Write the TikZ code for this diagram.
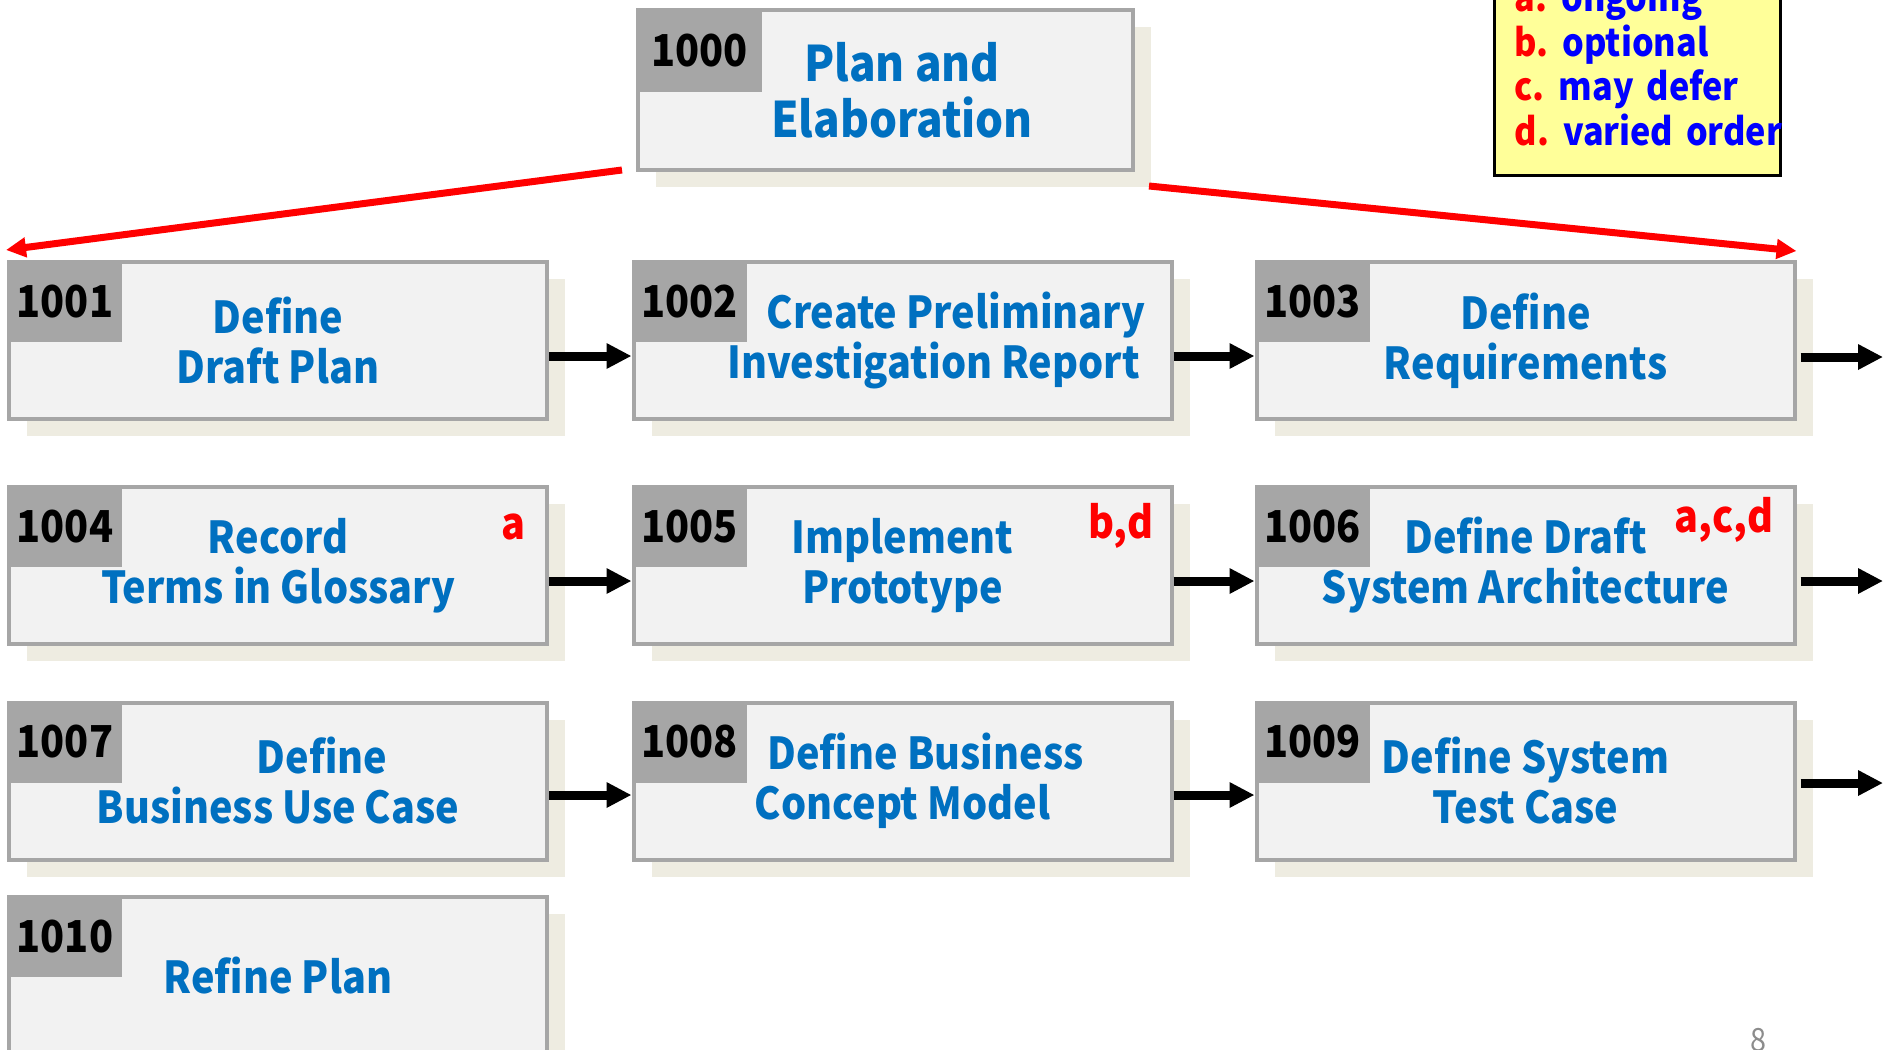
\documentclass[tikz,border=0pt]{standalone}
\usepackage{fontspec}
\setmainfont{Noto Sans CJK KR}[FakeStretch=0.9]
\usetikzlibrary{calc,shadows,arrows.meta}
\definecolor{boxgray}{HTML}{A6A6A6}
\definecolor{boxfill}{HTML}{F2F2F2}
\definecolor{titleblue}{HTML}{0070C0}
\definecolor{shadowtan}{HTML}{EEECE1}
\definecolor{notefill}{HTML}{FFFF99}
\definecolor{pagegray}{HTML}{8C8C8C}
\tikzset{
	task/.style={rectangle, draw=boxgray, line width=2pt, fill=boxfill, minimum width=269pt, minimum height=78.5pt, inner sep=0pt, align=center, text=titleblue, font=\fontsize{22}{25}\selectfont\bfseries, general shadow={fill=shadowtan, shadow xshift=9pt, shadow yshift=-8.5pt}},
	idbox/.style={rectangle, fill=boxgray, minimum width=57.5pt, minimum height=41pt, inner sep=0pt, anchor=north west, font=\fontsize{22}{26}\selectfont\bfseries},
	flag/.style={text=red, inner sep=0pt, anchor=base east, font=\fontsize{22}{25}\selectfont\bfseries},
	flow/.style={line width=4.5pt, -{Triangle[length=12.5pt,width=12pt]}},
	branch/.style={red, line width=3.5pt, -{Triangle[length=10pt,width=9.5pt]}},
	notebox/.style={rectangle, draw=black, line width=1.5pt, fill=notefill, inner xsep=10pt, inner ysep=0pt, text width=123pt, align=left, font=\fontsize{19}{22.3}\selectfont\bfseries},
}

\begin{document}
\begin{tikzpicture}[x=0.5pt, y=-0.5pt]
			%%%%% START %%%%%
			
			\fill[white] (0, 0) rectangle (1883, 1049);
			\useasboundingbox (0, 0) rectangle (1883, 1049);
			\clip (0, 0) rectangle (1883, 1049);
			
			\node[task, minimum width=247.5pt, minimum height=80pt, font=\fontsize{24.5}{28}\selectfont\bfseries] (t1000) at (885.5, 90) {\hspace*{16.5pt}Plan and\\ \hspace*{16.5pt}Elaboration};
			\node[idbox, minimum width=63pt, minimum height=42pt] (n1000) at (t1000.north west) {1000};
			
			\node[task] (t1001) at (278, 340.5) {Define\\ Draft Plan};
			\node[idbox] (n1001) at (t1001.north west) {1001};
			\node[task] (t1002) at (902.5, 340.5) {\hspace*{53.5pt}Create Preliminary\\ \hspace*{31pt}Investigation Report};
			\node[idbox] (n1002) at (t1002.north west) {1002};
			\node[task] (t1003) at (1525.5, 340.5) {Define\\ Requirements};
			\node[idbox] (n1003) at (t1003.north west) {1003};
			
			\node[task] (t1004) at (278, 565.5) {Record\\ Terms in Glossary};
			\node[idbox] (n1004) at (t1004.north west) {1004};
			\node[flag] (f1004) at ($(t1004.north east)+(-23, 54)$) {a};
			\node[task] (t1005) at (902.5, 565.5) {Implement\\ Prototype};
			\node[idbox] (n1005) at (t1005.north west) {1005};
			\node[flag] (f1005) at ($(t1005.north east)+(-20, 53)$) {b,d};
			\node[task] (t1006) at (1525.5, 565.5) {Define Draft\\ System Architecture};
			\node[idbox] (n1006) at (t1006.north west) {1006};
			\node[flag] (f1006) at ($(t1006.north east)+(-23, 47)$) {a,c,d};
			
			\node[task] (t1007) at (278, 781) {\hspace*{44pt}Define\\ Business Use Case};
			\node[idbox] (n1007) at (t1007.north west) {1007};
			\node[task] (t1008) at (902.5, 781) {\hspace*{23pt}Define Business\\ Concept Model};
			\node[idbox] (n1008) at (t1008.north west) {1008};
			\node[task] (t1009) at (1525.5, 781) {Define System\\ Test Case};
			\node[idbox] (n1009) at (t1009.north west) {1009};
			
			\node[task] (t1010) at (278, 975.5) {Refine Plan};
			\node[idbox] (n1010) at (t1010.north west) {1010};
			
			\draw[flow] ($(t1001.east)+(0, 15.5)$) -- ($(t1002.west)+(0, 15.5)$);
			\draw[flow] ($(t1002.east)+(0, 15.5)$) -- ($(t1003.west)+(0, 15.5)$);
			\draw[flow] ($(t1004.east)+(0, 15.5)$) -- ($(t1005.west)+(0, 15.5)$);
			\draw[flow] ($(t1005.east)+(0, 15.5)$) -- ($(t1006.west)+(0, 15.5)$);
			\draw[flow] ($(t1007.east)+(0, 14)$) -- ($(t1008.west)+(0, 14)$);
			\draw[flow] ($(t1008.east)+(0, 14)$) -- ($(t1009.west)+(0, 14)$);
			
			\coordinate (out1) at (1883, 357);
			\coordinate (out2) at (1883, 581);
			\coordinate (out3) at (1883, 783);
			\draw[flow] ($(t1003.east)+(4, 16.5)$) -- (out1);
			\draw[flow] ($(t1006.east)+(4, 15.5)$) -- (out2);
			\draw[flow] ($(t1009.east)+(4, 2)$) -- (out3);
			
			\coordinate (tipL) at ($(t1001.north west)+(-1, -10)$);
			\coordinate (tipR) at ($(t1003.north east)+(0, -9)$);
			\draw[branch] ($(t1000.south west)+(-14, -2)$) -- (tipL);
			\draw[branch] ($(t1000.south east)+(14, 14)$) -- (tipR);
			
			\node[notebox, anchor=south west] (legend) at (1493, 177) {\mbox{\textcolor{red}{a.}\hspace{7pt}\textcolor{blue}{ongoing}}\\ \mbox{\textcolor{red}{b.}\hspace{7pt}\textcolor{blue}{optional}}\\ \mbox{\textcolor{red}{c.}\hspace{7pt}\textcolor{blue}{may defer}}\\ \mbox{\textcolor{red}{d.}\hspace{7pt}\textcolor{blue}{varied order}}\rule[-15pt]{0pt}{15pt}};
			
			\node[anchor=north, inner sep=0pt, text=pagegray, font=\fontsize{16}{18}\selectfont] (page) at (1758, 1028) {8};
			
			%%%%% END %%%%%
\end{tikzpicture}
\end{document}
